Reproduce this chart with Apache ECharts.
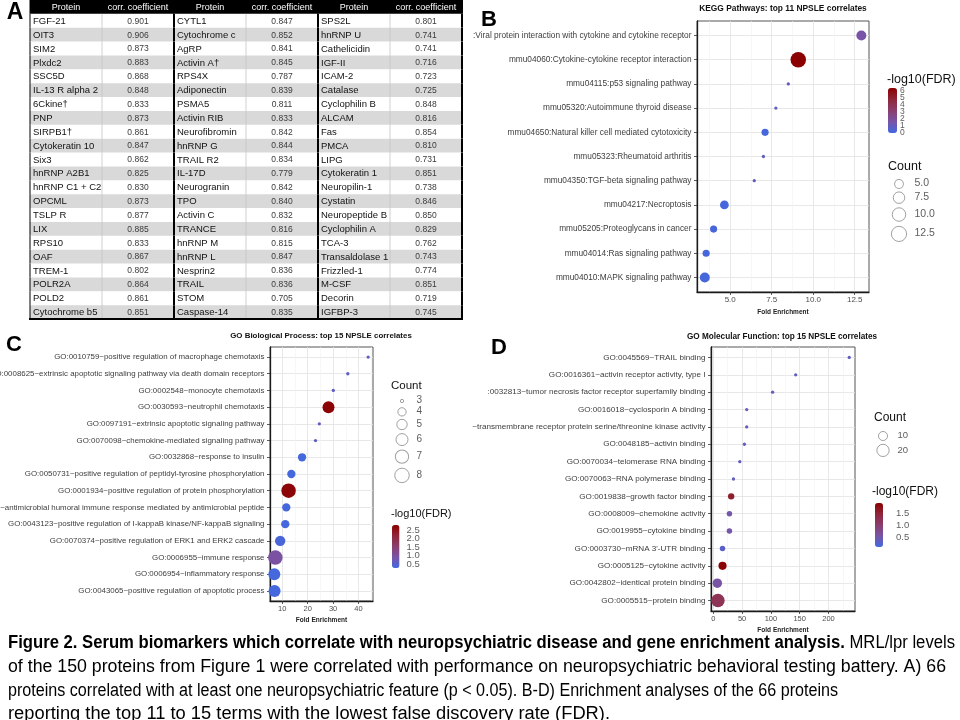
<!DOCTYPE html>
<html><head><meta charset="utf-8">
<script src="https://cdn.jsdelivr.net/npm/echarts@6/dist/echarts.min.js"></script>
<style>html,body{margin:0;padding:0;background:#fff}#c{width:960px;height:720px}</style>
</head><body><div id="c"></div>
<script>
// ================= DATA =================
const tableHeader = ['Protein','corr. coefficient','Protein','corr. coefficient','Protein','corr. coefficient'];
const proteins1 = ['FGF-21','OIT3','SIM2','Plxdc2','SSC5D','IL-13 R alpha 2','6Ckine\u2020','PNP','SIRPB1\u2020','Cytokeratin 10','Six3','hnRNP A2B1','hnRNP C1 + C2','OPCML','TSLP R','LIX','RPS10','OAF','TREM-1','POLR2A','POLD2','Cytochrome b5'];
const corr1 = [0.901,0.906,0.873,0.883,0.868,0.848,0.833,0.873,0.861,0.847,0.862,0.825,0.830,0.873,0.877,0.885,0.833,0.867,0.802,0.864,0.861,0.851];
const proteins2 = ['CYTL1','Cytochrome c','AgRP','Activin A\u2020','RPS4X','Adiponectin','PSMA5','Activin RIB','Neurofibromin','hnRNP G','TRAIL R2','IL-17D','Neurogranin','TPO','Activin C','TRANCE','hnRNP M','hnRNP L','Nesprin2','TRAIL','STOM','Caspase-14'];
const corr2 = [0.847,0.852,0.841,0.845,0.787,0.839,0.811,0.833,0.842,0.844,0.834,0.779,0.842,0.840,0.832,0.816,0.815,0.847,0.836,0.836,0.705,0.835];
const proteins3 = ['SPS2L','hnRNP U','Cathelicidin','IGF-II','ICAM-2','Catalase','Cyclophilin B','ALCAM','Fas','PMCA','LIPG','Cytokeratin 1','Neuropilin-1','Cystatin','Neuropeptide B','Cyclophilin A','TCA-3','Transaldolase 1','Frizzled-1','M-CSF','Decorin','IGFBP-3'];
const corr3 = [0.801,0.741,0.741,0.716,0.723,0.725,0.848,0.816,0.854,0.810,0.731,0.851,0.738,0.846,0.850,0.829,0.762,0.743,0.774,0.851,0.719,0.745];

const keggTerms = [':Viral protein interaction with cytokine and cytokine receptor','mmu04060:Cytokine-cytokine receptor interaction','mmu04115:p53 signaling pathway','mmu05320:Autoimmune thyroid disease','mmu04650:Natural killer cell mediated cytotoxicity','mmu05323:Rheumatoid arthritis','mmu04350:TGF-beta signaling pathway','mmu04217:Necroptosis','mmu05205:Proteoglycans in cancer','mmu04014:Ras signaling pathway','mmu04010:MAPK signaling pathway'];
const keggFold = [12.9, 9.1, 8.5, 7.75, 7.1, 7.0, 6.45, 4.65, 4.0, 3.55, 3.47];
const keggCount = [6, 13, 3, 3, 4, 3, 3, 5, 4, 4, 6];
const keggFDR = [1.6, 6.4, 0.9, 0.9, 0.15, 0.9, 0.9, 0.15, 0.2, 0.15, 0.15];
const keggXTicks = [5, 7.5, 10, 12.5];
const keggXMinor = [3.75, 6.25, 8.75, 11.25];
const keggCountBreaks = [5, 7.5, 10, 12.5];
const keggFdrBreaks = [0, 1, 2, 3, 4, 5, 6];

const bpTerms = ['GO:0010759~positive regulation of macrophage chemotaxis','GO:0008625~extrinsic apoptotic signaling pathway via death domain receptors','GO:0002548~monocyte chemotaxis','GO:0030593~neutrophil chemotaxis','GO:0097191~extrinsic apoptotic signaling pathway','GO:0070098~chemokine-mediated signaling pathway','GO:0032868~response to insulin','GO:0050731~positive regulation of peptidyl-tyrosine phosphorylation','GO:0001934~positive regulation of protein phosphorylation','GO:0061844~antimicrobial humoral immune response mediated by antimicrobial peptide','GO:0043123~positive regulation of I-kappaB kinase/NF-kappaB signaling','GO:0070374~positive regulation of ERK1 and ERK2 cascade','GO:0006955~immune response','GO:0006954~inflammatory response','GO:0043065~positive regulation of apoptotic process'];
const bpFold = [43.8, 35.8, 30.1, 28.2, 24.6, 23.1, 17.8, 13.6, 12.5, 11.6, 11.2, 9.2, 7.3, 6.9, 7.0];
const bpCount = [3, 3, 3, 6, 3, 3, 4, 4, 8, 4, 4, 5, 8, 6, 6];
const bpFDR = [0.6, 0.6, 0.6, 2.75, 0.6, 0.6, 0.3, 0.3, 2.7, 0.3, 0.3, 0.35, 0.95, 0.3, 0.3];
const bpXTicks = [10, 20, 30, 40];
const bpXMinor = [15, 25, 35, 45];
const bpCountBreaks = [3, 4, 5, 6, 7, 8];
const bpFdrBreaks = [0.5, 1.0, 1.5, 2.0, 2.5];

const mfTerms = ['GO:0045569~TRAIL binding','GO:0016361~activin receptor activity, type I',':0032813~tumor necrosis factor receptor superfamily binding','GO:0016018~cyclosporin A binding','~transmembrane receptor protein serine/threonine kinase activity','GO:0048185~activin binding','GO:0070034~telomerase RNA binding','GO:0070063~RNA polymerase binding','GO:0019838~growth factor binding','GO:0008009~chemokine activity','GO:0019955~cytokine binding',"GO:0003730~mRNA 3'-UTR binding",'GO:0005125~cytokine activity','GO:0042802~identical protein binding','GO:0005515~protein binding'];
const mfFold = [236, 143, 103, 58, 58, 54, 46, 35, 31, 28, 28, 16, 16, 7, 8];
const mfCount = [3, 3, 3, 3, 3, 3, 3, 3, 5, 4, 4, 4, 8, 11, 25];
const mfFDR = [0.35, 0.35, 0.35, 0.35, 0.35, 0.35, 0.35, 0.35, 1.55, 0.5, 0.5, 0.28, 1.9, 0.55, 1.2];
const mfXTicks = [0, 50, 100, 150, 200];
const mfXMinor = [25, 75, 125, 175, 225];
const mfCountBreaks = [10, 20];
const mfFdrBreaks = [0.5, 1.0, 1.5];

const captionBold = 'Figure 2. Serum biomarkers which correlate with neuropsychiatric disease and gene enrichment analysis.';
const captionLines = [' MRL/lpr levels',
 'of the 150 proteins from Figure 1 were correlated with performance on neuropsychiatric behavioral testing battery. A) 66',
 'proteins correlated with at least one neuropsychiatric feature (p < 0.05). B-D) Enrichment analyses of the 66 proteins',
 'reporting the top 11 to 15 terms with the lowest false discovery rate (FDR).'];

// ================= BUILD =================
const FONT = '"Liberation Sans", Arial, sans-serif';
const gradStops = ['#4169E1', '#7954A6', '#8B3E6E', '#8F2639', '#8B0000'];
const grids = [], xAxes = [], yAxes = [], series = [], visualMaps = [], graphics = [];
const G = {outerBoundsMode: 'none', containLabel: false};

// ---- Table (panel A) ----
const tableCols = [proteins1, corr1, proteins2, corr2, proteins3, corr3];
const nRows = proteins1.length;
const cells = [];
for (let c = 0; c < 6; c++) {
  cells.push({c: c, r: 0, text: tableHeader[c], kind: 'h'});
  for (let r = 0; r < nRows; r++) {
    const v = tableCols[c][r];
    cells.push({c: c, r: r + 1, text: (c % 2) ? v.toFixed(3) : v, kind: (c % 2) ? 'v' : 'n'});
  }
}
let gi = grids.length;
grids.push(Object.assign({left: 30, top: 0, width: 432, height: 319}, G));
let xi = xAxes.length, yi = yAxes.length;
xAxes.push({gridIndex: gi, type: 'category', data: [0,1,2,3,4,5], show: false});
yAxes.push({gridIndex: gi, type: 'category', data: Array.from({length: nRows + 1}, (_, i) => i), inverse: true, show: false});
series.push({
  type: 'custom', xAxisIndex: xi, yAxisIndex: yi, silent: true, animation: false,
  encode: {x: 0, y: 1},
  data: cells.map(d => [d.c, d.r]),
  renderItem: function (params, api) {
    const d = cells[params.dataIndex];
    const p = api.coord([api.value(0), api.value(1)]);
    const s = api.size([1, 1]);
    const w = s[0], h = s[1], x0 = p[0] - w / 2, y0 = p[1] - h / 2;
    const fill = d.kind === 'h' ? '#000' : (d.r % 2 === 0 ? '#d9d9d9' : '#ffffff');
    const ch = [{type: 'rect', shape: {x: x0, y: y0, width: w + 0.6, height: h + 0.6}, style: {fill: fill}}];
    if (d.kind === 'v') ch.push({type: 'line', shape: {x1: x0, y1: y0, x2: x0, y2: y0 + h}, style: {stroke: '#c4c4c4', lineWidth: 0.8}});
    if (d.c === 2 || d.c === 4) ch.push({type: 'line', shape: {x1: x0, y1: y0, x2: x0, y2: y0 + h}, style: {stroke: '#000', lineWidth: 2}});
    if (d.c === 0) ch.push({type: 'line', shape: {x1: x0, y1: y0, x2: x0, y2: y0 + h}, style: {stroke: '#000', lineWidth: 1}});
    if (d.c === 5) ch.push({type: 'line', shape: {x1: x0 + w, y1: y0, x2: x0 + w, y2: y0 + h}, style: {stroke: '#000', lineWidth: 2}});
    if (d.r === nRows) ch.push({type: 'line', shape: {x1: x0 - 1, y1: y0 + h, x2: x0 + w + 1, y2: y0 + h}, style: {stroke: '#000', lineWidth: 2}});
    const isName = d.kind === 'n';
    const font = d.kind === 'h' ? '9px ' + FONT : (isName ? '9.5px ' + FONT : '8.5px ' + FONT);
    ch.push({type: 'text', style: {
      text: d.text, x: isName ? x0 + 3 : x0 + w / 2, y: y0 + h / 2 + 0.5,
      align: isName ? 'left' : 'center', verticalAlign: 'middle',
      textAlign: isName ? 'left' : 'center', textVerticalAlign: 'middle',
      fill: d.kind === 'h' ? '#fff' : (isName ? '#111' : '#3a3a3a'), font: font}});
    return {type: 'group', children: ch};
  }
});

// ---- Bubble panels ----
function addPanel(p) {
  const n = p.terms.length;
  const ticksY = p.terms.map((_, i) => i + 1);
  let g = grids.length;
  grids.push(Object.assign({show: true, borderColor: '#555', borderWidth: 1, backgroundColor: '#fff'}, G, p.grid));
  xAxes.push({gridIndex: g, type: 'value', min: p.xMin, max: p.xMax, position: 'top', z: 1,
    axisLine: {show: false}, axisTick: {show: false, customValues: p.minor},
    axisLabel: {show: false, customValues: p.minor},
    splitLine: {show: true, lineStyle: {color: '#f1f1f1', width: 0.6}}});
  const xMajor = xAxes.length;
  xAxes.push({gridIndex: g, type: 'value', min: p.xMin, max: p.xMax, position: 'bottom', z: 2,
    axisLine: {show: true, onZero: false, lineStyle: {color: '#1a1a1a', width: 1.3}},
    axisTick: {show: true, customValues: p.major, length: 3, lineStyle: {color: '#333', width: 0.8}},
    axisLabel: {customValues: p.major, formatter: p.fmt, fontSize: p.xFont, color: '#4d4d4d', margin: 4, fontFamily: FONT,
      showMinLabel: true, showMaxLabel: true},
    splitLine: {show: true, lineStyle: {color: '#e2e2e2', width: 0.8}},
    name: 'Fold Enrichment', nameLocation: 'middle', nameGap: p.nameGap,
    nameTextStyle: {fontSize: 6.5, fontWeight: 'bold', color: '#222', fontFamily: FONT}});
  const yI = yAxes.length;
  yAxes.push({gridIndex: g, type: 'value', min: 0.4, max: n + 0.6, inverse: true,
    axisLine: {show: true, onZero: false, lineStyle: {color: '#1a1a1a', width: 1.3}},
    axisTick: {show: true, customValues: ticksY, length: 3, lineStyle: {color: '#333', width: 0.8}},
    axisLabel: {customValues: ticksY, formatter: v => p.terms[Math.round(v) - 1], fontSize: p.yFont, color: '#3d3d3d',
      margin: 5.5, fontFamily: FONT, showMinLabel: true, showMaxLabel: true},
    splitLine: {show: true, lineStyle: {color: '#e2e2e2', width: 0.8}}});
  const si = series.length;
  series.push({type: 'scatter', xAxisIndex: xMajor, yAxisIndex: yI, silent: true, animation: false, z: 5,
    data: p.terms.map((t, i) => [p.fold[i], i + 1, p.count[i], p.fdr[i]]),
    symbolSize: v => p.size(v[2]), itemStyle: {opacity: 1}});
  // colour scale
  const vm = p.vm;
  visualMaps.push({type: 'continuous', seriesIndex: si, dimension: 3, min: vm.min, max: vm.max,
    inRange: {color: gradStops}, orient: 'vertical', left: vm.left, top: vm.top,
    itemWidth: vm.w, itemHeight: vm.h, calculable: false, text: null, padding: 0, hoverLink: false, showLabel: false});
  g = grids.length;
  grids.push(Object.assign({left: vm.left, top: vm.top, width: vm.w, height: vm.h}, G));
  const cx = xAxes.length, cy = yAxes.length;
  xAxes.push({gridIndex: g, type: 'value', min: 0, max: 1, show: false});
  yAxes.push({gridIndex: g, type: 'value', min: vm.min, max: vm.max, position: 'right',
    axisLine: {show: false}, splitLine: {show: false},
    axisTick: {show: true, inside: true, length: 2, customValues: vm.breaks, lineStyle: {color: '#fff', width: 1}},
    axisLabel: {show: false, customValues: vm.breaks}});
  series.push({type: 'scatter', xAxisIndex: cx, yAxisIndex: cy, silent: true, animation: false,
    symbolSize: 1, itemStyle: {color: 'rgba(0,0,0,0)'},
    data: vm.breaks.map(b => [1, b]),
    label: {show: true, position: 'right', distance: vm.margin - 0.5, formatter: q => vm.fmt(q.value[1]),
      fontSize: vm.font, color: '#333', fontFamily: FONT}});
  // size legend
  const lg = p.legend;
  const ds = lg.breaks.map(b => p.size(b));
  const hs = ds.map(d => Math.max(10.5, 1.35 * d));
  const pos = []; let acc = 0;
  hs.forEach(h => { pos.push(acc + h / 2); acc += h; });
  g = grids.length;
  grids.push(Object.assign({left: lg.cx - 10, top: lg.y0 - hs[0] / 2, width: 20, height: acc}, G));
  const lx = xAxes.length, ly = yAxes.length;
  xAxes.push({gridIndex: g, type: 'value', min: 0, max: 1, show: false});
  yAxes.push({gridIndex: g, type: 'value', min: 0, max: acc, inverse: true, show: false});
  series.push({type: 'scatter', xAxisIndex: lx, yAxisIndex: ly, silent: true, animation: false,
    itemStyle: {color: '#fff', borderColor: '#8a8a8a', borderWidth: 1},
    data: lg.breaks.map((b, k) => ({value: [0.5, pos[k]], symbolSize: ds[k],
      label: {show: true, formatter: lg.fmt(b), position: [lg.off + ds[k] / 2, ds[k] / 2],
        align: 'left', verticalAlign: 'middle', fontSize: lg.font, color: '#333', fontFamily: FONT}}))});
}

addPanel({terms: keggTerms, fold: keggFold, count: keggCount, fdr: keggFDR,
  grid: {left: 697, top: 21, width: 172, height: 271}, xMin: 3.0, xMax: 13.36,
  major: keggXTicks, minor: keggXMinor, fmt: v => v.toFixed(1), xFont: 8, yFont: 8.3, nameGap: 17,
  size: c => 3.3 + 12.2 * Math.sqrt((c - 3) / 10),
  vm: {min: 0, max: 6.4, left: 888, top: 88, w: 9, h: 45, breaks: keggFdrBreaks, fmt: v => String(v), font: 8.5, margin: 3},
  legend: {cx: 899, y0: 184, off: 16, breaks: keggCountBreaks, fmt: b => b.toFixed(1), font: 10.5}});

addPanel({terms: bpTerms, fold: bpFold, count: bpCount, fdr: bpFDR,
  grid: {left: 270, top: 347, width: 103, height: 254}, xMin: 5.2, xMax: 45.7,
  major: bpXTicks, minor: bpXMinor, fmt: v => String(v), xFont: 7.5, yFont: 7.9, nameGap: 16,
  size: c => 3.3 + 11.2 * Math.sqrt((c - 3) / 5),
  vm: {min: 0.26, max: 2.8, left: 392, top: 525, w: 7.5, h: 43, breaks: bpFdrBreaks, fmt: v => v.toFixed(1), font: 9.5, margin: 7},
  legend: {cx: 402, y0: 401, off: 15, breaks: bpCountBreaks, fmt: b => String(b), font: 10}});

addPanel({terms: mfTerms, fold: mfFold, count: mfCount, fdr: mfFDR,
  grid: {left: 711, top: 347, width: 144, height: 264}, xMin: -4, xMax: 246,
  major: mfXTicks, minor: mfXMinor, fmt: v => String(v), xFont: 7.5, yFont: 8.1, nameGap: 16,
  size: c => 3.3 + 10.2 * Math.sqrt((c - 3) / 22),
  vm: {min: 0.08, max: 1.92, left: 875, top: 503, w: 8, h: 44, breaks: mfFdrBreaks, fmt: v => v.toFixed(1), font: 9.5, margin: 13},
  legend: {cx: 883, y0: 436, off: 15, breaks: mfCountBreaks, fmt: b => String(b), font: 9.5}});

// ---- Text (titles, letters, legend titles, caption) ----
function txt(x, y, text, font, align, color) {
  graphics.push({type: 'text', x: x, y: y, silent: true, style: {text: text, font: font,
    textAlign: align || 'left', align: align || 'left', textVerticalAlign: 'middle', verticalAlign: 'middle', fill: color || '#000'}});
}
txt(15, 13, 'A', 'bold 23px ' + FONT, 'center');
txt(489, 20, 'B', 'bold 22px ' + FONT, 'center');
txt(14, 345, 'C', 'bold 22px ' + FONT, 'center');
txt(499, 348, 'D', 'bold 22px ' + FONT, 'center');
txt(783, 9, 'KEGG Pathways: top 11 NPSLE correlates', 'bold 8.4px ' + FONT, 'center', '#111');
txt(321, 336, 'GO Biological Process: top 15 NPSLE correlates', 'bold 7.9px ' + FONT, 'center', '#111');
txt(782, 337, 'GO Molecular Function: top 15 NPSLE correlates', 'bold 8.2px ' + FONT, 'center', '#111');
txt(887, 80, '-log10(FDR)', '12.5px ' + FONT, 'left', '#111');
txt(888, 167, 'Count', '12.5px ' + FONT, 'left', '#111');
txt(391, 386, 'Count', '11.5px ' + FONT, 'left', '#111');
txt(391, 514, '-log10(FDR)', '11px ' + FONT, 'left', '#111');
txt(874, 418, 'Count', '12px ' + FONT, 'left', '#111');
txt(872, 492, '-log10(FDR)', '12px ' + FONT, 'left', '#111');

// caption: each line squeezed to the reference's line length
const mctx = document.createElement('canvas').getContext('2d');
function measure(t, f) { mctx.font = f; return mctx.measureText(t).width; }
const capY = [643, 667, 691, 714];
const capEnd = [955, 946, 838, 610];
const capX = 8;
const w1 = measure(captionBold, 'bold 18px ' + FONT) + measure(captionLines[0], '18px ' + FONT);
graphics.push({type: 'text', x: capX, y: capY[0], scaleX: (capEnd[0] - capX) / w1, silent: true,
  style: {text: '{b|' + captionBold + '}{n|' + captionLines[0] + '}',
    rich: {b: {fontWeight: 'bold', fontSize: 18, fontFamily: FONT, fill: '#000', color: '#000'},
           n: {fontSize: 18, fontFamily: FONT, fill: '#000', color: '#000'}},
    textVerticalAlign: 'middle', verticalAlign: 'middle', fill: '#000'}});
for (let i = 1; i < 4; i++) {
  const wi = measure(captionLines[i], '18px ' + FONT);
  graphics.push({type: 'text', x: capX, y: capY[i], scaleX: (capEnd[i] - capX) / wi, silent: true,
    style: {text: captionLines[i], font: '18px ' + FONT, fill: '#000', textVerticalAlign: 'middle', verticalAlign: 'middle'}});
}

const chart = echarts.init(document.getElementById('c'), null, {renderer: 'canvas'});
chart.setOption({
  animation: false,
  backgroundColor: '#fff',
  grid: grids, xAxis: xAxes, yAxis: yAxes, series: series,
  visualMap: visualMaps, graphic: graphics
});
</script></body></html>
